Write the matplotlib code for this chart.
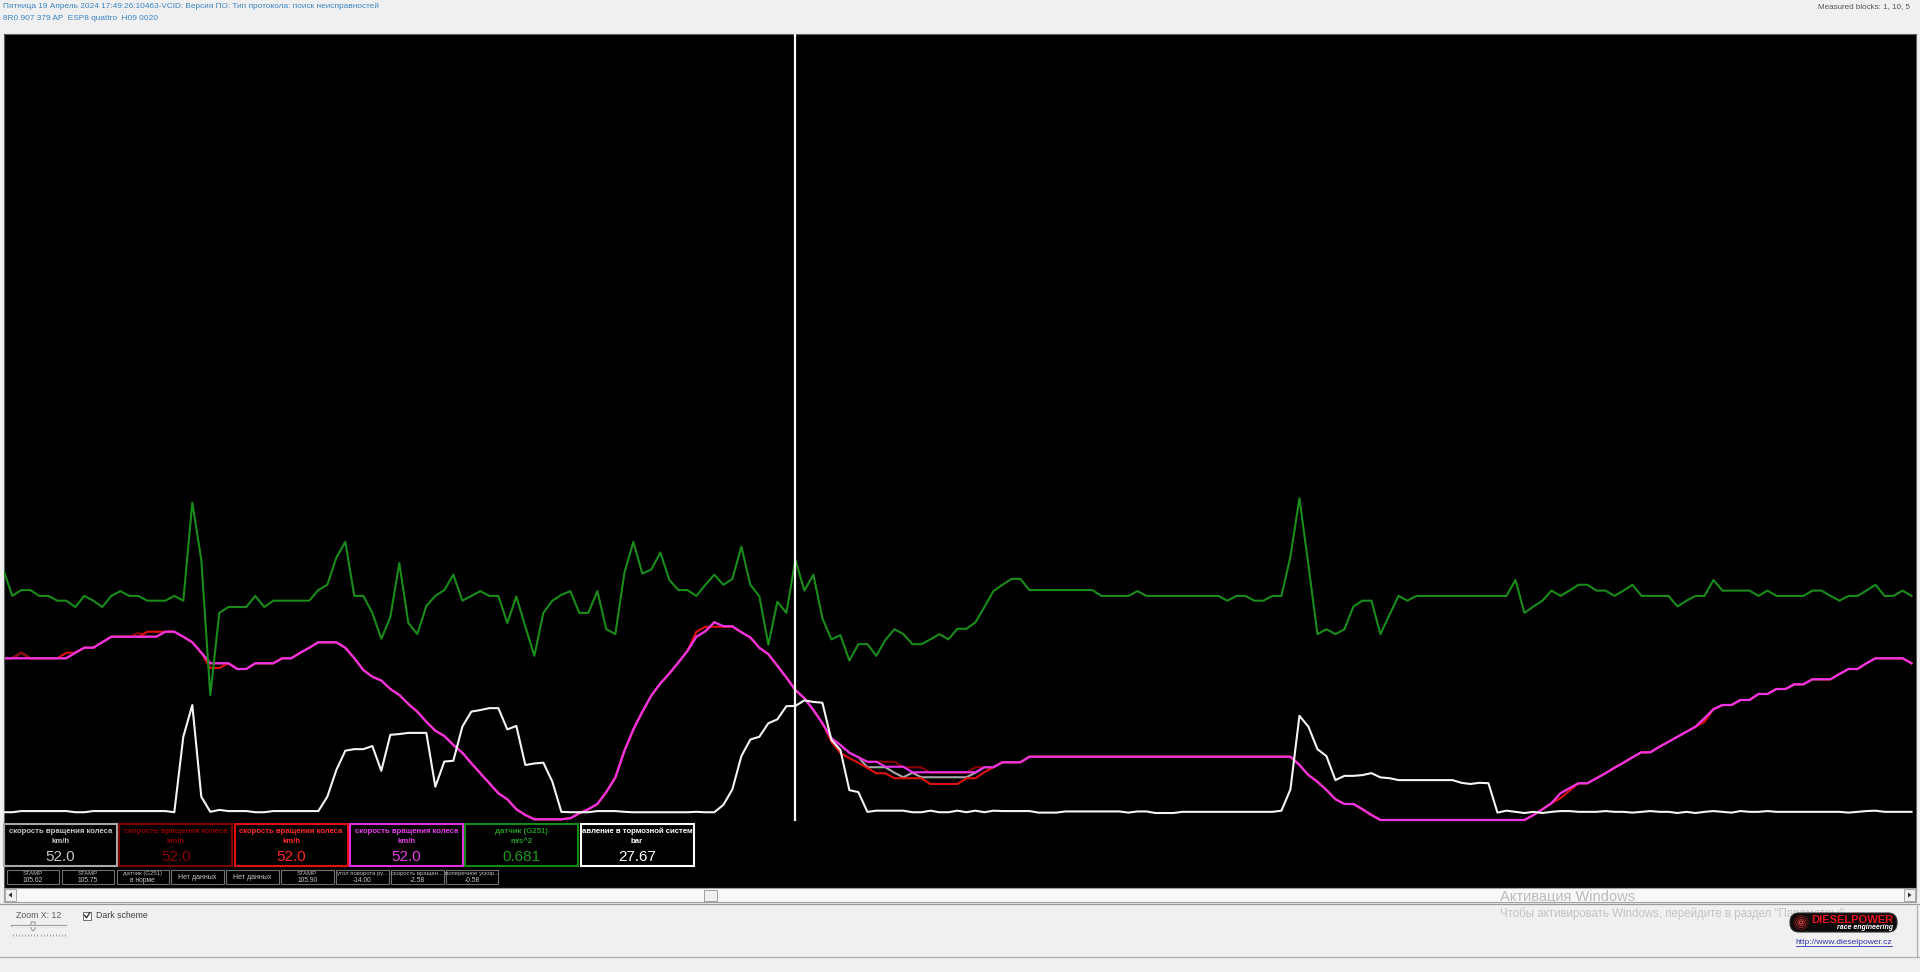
import matplotlib
matplotlib.use('Agg')
import matplotlib.pyplot as plt
import numpy as np
from matplotlib.patches import Rectangle, FancyBboxPatch, Circle, Polygon

plt.rcParams['font.family'] = ['Liberation Sans', 'DejaVu Sans']

# wheel speed, km/h (magenta channel), one value per logged sample
speed = [
    64.7, 64.7, 64.7, 64.7, 64.7, 64.7, 64.7, 64.7, 66.9, 68.9,
    68.9, 71.1, 73.3, 73.3, 73.3, 73.3, 73.3, 73.3, 75.3, 75.3,
    73.3, 71.1, 66.9, 62.7, 62.7, 62.7, 60.4, 60.4, 62.7, 62.7,
    62.7, 64.7, 64.7, 66.9, 68.9, 71.1, 71.1, 71.1, 68.9, 64.7,
    60.0, 57.3, 55.8, 52.4, 50.0, 46.4, 43.3, 39.3, 35.7, 33.6,
    30.0, 26.9, 22.7, 18.7, 14.7, 10.7, 8.3, 4.3, 2.0, 0.3,
    0.3, 0.3, 0.3, 0.7, 2.7, 4.3, 6.4, 11.2, 17.0, 27.6,
    36.2, 43.3, 49.8, 54.6, 58.6, 63.0, 67.6, 73.3, 75.5, 79.1,
    77.5, 77.5, 75.1, 73.0, 68.9, 66.3, 61.7, 57.0, 52.0, 48.7,
    44.0, 38.7, 32.7, 30.0, 26.9, 25.1, 23.3, 23.3, 21.3, 21.3,
    21.3, 19.1, 19.1, 19.1, 19.1, 19.1, 19.1, 19.1, 19.1, 21.1,
    21.1, 23.1, 23.1, 23.1, 25.3, 25.3, 25.3, 25.3, 25.3, 25.3,
    25.3, 25.3, 25.3, 25.3, 25.3, 25.3, 25.3, 25.3, 25.3, 25.3,
    25.3, 25.3, 25.3, 25.3, 25.3, 25.3, 25.3, 25.3, 25.3, 25.3,
    25.3, 25.3, 25.3, 25.3, 22.0, 18.0, 15.3, 12.0, 8.3, 6.4,
    6.4, 4.3, 2.0, 0.0, 0.0, 0.0, 0.0, 0.0, 0.0, 0.0,
    0.0, 0.0, 0.0, 0.0, 0.0, 0.0, 0.0, 0.0, 0.0, 0.0,
    2.0, 4.3, 6.7, 10.7, 12.7, 14.7, 14.7, 16.7, 18.7, 20.9,
    22.9, 25.1, 27.1, 27.1, 29.3, 31.3, 33.3, 35.3, 37.3, 40.7,
    44.3, 46.0, 46.0, 48.0, 48.0, 50.4, 50.4, 52.4, 52.4, 54.3,
    54.3, 56.3, 56.3, 56.3, 58.4, 60.4, 60.4, 62.7, 64.7, 64.7,
    64.7, 64.7, 62.7,
]

# the other three wheel speeds follow the magenta one except where they split
speed_red = list(speed)
speed_red[7:10] = [66.9, 66.9, 68.9]
speed_red[16:18] = [75.3, 75.3]
speed_red[23:25] = [60.8, 60.8]
speed_red[76:82] = [67.6, 75.3, 77.3, 77.3, 77.3, 77.3]
speed_red[91:111] = [38.7, 31.3, 26.8, 24.7, 22.9, 20.8, 18.7, 18.7, 16.7, 16.7,
                     16.7, 16.7, 14.4, 14.4, 14.4, 14.4, 16.7, 16.7, 19.1, 21.1]
speed_red[173:175] = [8.7, 11.7]
speed_red[189] = 39.3

speed_dark = list(speed)
speed_dark[2] = 66.9
speed_dark[15] = 74.9
speed_dark[96:111] = [23.3, 23.3, 23.3, 23.3, 21.1, 21.1, 21.1, 18.9, 18.9, 18.9,
                      18.9, 18.9, 21.1, 21.1, 21.1]

speed_gray = list(speed)
speed_gray[2] = 66.9
speed_gray[94:111] = [26.9, 25.1, 21.1, 21.1, 21.1, 18.9, 17.1, 18.9, 17.1, 17.1,
                      17.1, 17.1, 17.1, 17.1, 18.9, 21.1, 21.1]

# brake system pressure, bar (white channel)
pressure = [
    0.2, 0.2, 0.5, 0.5, 0.5, 0.5, 0.5, 0.5, 0.2, 0.2,
    0.5, 0.5, 0.5, 0.5, 0.5, 0.5, 0.5, 0.5, 0.5, 0.2,
    19.7, 27.9, 4.2, 0.3, 0.8, 0.5, 0.5, 0.5, 0.2, 0.2,
    0.5, 0.5, 0.5, 0.5, 0.5, 0.5, 4.2, 11.1, 16.1, 16.5,
    16.5, 17.3, 10.9, 20.2, 20.4, 20.7, 20.7, 20.7, 6.8, 13.3,
    13.5, 22.3, 26.2, 26.6, 27.1, 27.1, 21.6, 22.5, 12.4, 12.8,
    13.0, 8.1, 0.3, 0.2, 0.2, 0.2, 0.5, 0.5, 0.5, 0.3,
    0.2, 0.2, 0.2, 0.2, 0.2, 0.2, 0.2, 0.3, 0.2, 0.2,
    2.1, 6.1, 14.7, 19.0, 19.7, 23.2, 24.2, 27.6, 27.67, 29.1,
    28.7, 28.5, 18.9, 16.3, 5.9, 5.4, 0.3, 0.6, 0.6, 0.6,
    0.6, 0.2, 0.2, 0.6, 0.2, 0.2, 0.6, 0.2, 0.6, 0.2,
    0.6, 0.5, 0.5, 0.5, 0.5, 0.1, 0.1, 0.1, 0.4, 0.4,
    0.4, 0.4, 0.4, 0.4, 0.4, 0.1, 0.4, 0.4, 0.0, 0.0,
    0.0, 0.3, 0.3, 0.3, 0.3, 0.3, 0.3, 0.3, 0.3, 0.3,
    0.3, 0.3, 0.6, 6.1, 25.1, 22.3, 16.5, 14.7, 8.5, 9.6,
    9.6, 9.8, 10.3, 9.2, 9.0, 8.5, 8.5, 8.5, 8.5, 8.5,
    8.5, 8.5, 7.8, 7.5, 7.8, 7.7, 0.1, 0.6, 0.3, 0.0,
    0.3, 0.0, 0.3, 0.5, 0.5, 0.3, 0.3, 0.3, 0.5, 0.3,
    0.3, 0.1, 0.3, 0.5, 0.3, 0.3, 0.0, 0.3, 0.0, 0.3,
    0.5, 0.3, 0.1, 0.5, 0.3, 0.3, 0.5, 0.3, 0.3, 0.3,
    0.3, 0.3, 0.3, 0.3, 0.3, 0.1, 0.3, 0.5, 0.6, 0.3,
    0.3, 0.3, 0.3,
]

# G251 acceleration sensor, m/s^2 (green channel)
accel = [
    0.50, 0.00, 0.11, 0.11, 0.00, 0.00, -0.09, -0.09, -0.21, 0.00,
    -0.09, -0.21, 0.00, 0.09, 0.00, 0.00, -0.09, -0.09, -0.09, 0.00,
    -0.09, 1.76, 0.68, -1.87, -0.32, -0.21, -0.21, -0.21, 0.00, -0.21,
    -0.09, -0.09, -0.09, -0.09, -0.09, 0.11, 0.21, 0.72, 1.02, 0.00,
    0.00, -0.32, -0.81, -0.40, 0.62, -0.51, -0.72, -0.19, 0.00, 0.11,
    0.40, -0.09, 0.00, 0.09, 0.00, 0.00, -0.51, -0.01, -0.58, -1.13,
    -0.32, -0.09, 0.02, 0.09, -0.32, -0.32, 0.09, -0.63, -0.72, 0.43,
    1.02, 0.42, 0.50, 0.82, 0.30, 0.11, 0.11, 0.00, 0.21, 0.40,
    0.21, 0.32, 0.93, 0.21, -0.01, -0.92, -0.11, -0.32, 0.681, 0.10,
    0.40, -0.42, -0.82, -0.74, -1.22, -0.91, -0.91, -1.13, -0.83, -0.63,
    -0.72, -0.91, -0.91, -0.82, -0.72, -0.82, -0.62, -0.62, -0.50, -0.21,
    0.09, 0.21, 0.32, 0.32, 0.11, 0.11, 0.11, 0.11, 0.11, 0.11,
    0.11, 0.11, 0.00, 0.00, 0.00, 0.00, 0.09, 0.00, 0.00, 0.00,
    0.00, 0.00, 0.00, 0.00, 0.00, 0.00, -0.09, 0.00, 0.00, -0.09,
    -0.09, 0.00, 0.00, 0.74, 1.84, 0.58, -0.72, -0.63, -0.72, -0.63,
    -0.20, -0.09, -0.09, -0.72, -0.36, 0.00, -0.09, 0.00, 0.00, 0.00,
    0.00, 0.00, 0.00, 0.00, 0.00, 0.00, 0.00, 0.00, 0.30, -0.32,
    -0.20, -0.09, 0.10, 0.00, 0.10, 0.21, 0.21, 0.10, 0.10, 0.00,
    0.10, 0.21, 0.00, 0.00, 0.00, 0.00, -0.20, -0.09, 0.00, 0.00,
    0.30, 0.10, 0.10, 0.10, 0.10, 0.00, 0.10, 0.00, 0.00, 0.00,
    0.00, 0.10, 0.10, 0.00, -0.09, 0.00, 0.00, 0.10, 0.21, 0.00,
    0.00, 0.10, 0.00,
]

cursor_idx = 88

box_titles = ['скорость вращения колеса', 'скорость вращения колеса', 'скорость вращения колеса',
              'скорость вращения колеса', 'датчик (G251)', 'авление в тормозной систем']
box_units = ['km/h', 'km/h', 'km/h', 'km/h', 'm/s^2', 'bar']
box_values = ['52.0', '52.0', '52.0', '52.0', '0.681', '27.67']
box_colors = ['#a8a8a8', '#7c0000', '#e01010', '#e030e0', '#138a13', '#ffffff']
box_text_colors = ['#c8c8c8', '#8a0000', '#ff2828', '#e840e8', '#1f9a1f', '#ffffff']

small_top = ['STAMP', 'STAMP', 'датчик (G251)', '', '', 'STAMP',
             'угол поворота ру...', 'скорость вращен...', 'поперечное ускор...']
small_bottom = ['105.62', '105.75', 'в норме', 'Нет данных', 'Нет данных', '105.90',
                '-14.00', '-2.58', '-0.58']

W, H = 1920, 972


def rect(x0, y0, x1, y1):
    return [x0 / W, 1 - y1 / H, (x1 - x0) / W, (y1 - y0) / H]


fig = plt.figure(figsize=(19.2, 9.72), dpi=100, facecolor='#f0f0f0')

# black trace area, each channel on its own vertical scale
ax = fig.add_axes(rect(4, 34, 1916, 888))
ax.set_facecolor('black')
ax.set_xticks([])
ax.set_yticks([])
for s in ax.spines.values():
    s.set_color('#606060')
ax.set_xlim(0.08, 212.5)
ax.set_ylim(-27.2, 314.4)

ax_p = ax.twinx()
ax_p.set_ylim(-19.38, 201.3)
ax_p.set_axis_off()
ax_a = ax.twinx()
ax_a.set_ylim(-5.51, 10.6)
ax_a.set_axis_off()

x = np.arange(len(speed))
ax.plot(x, speed_gray, color='#a8a8a8', lw=1.5)
ax.plot(x, speed_dark, color='#8a0000', lw=1.5)
ax.plot(x, speed_red, color='#e01010', lw=1.5)
ax.plot(x, speed, color='#ee33ee', lw=1.5)
ax_p.plot(np.arange(len(pressure)), pressure, color='#f4f4f4', lw=1.5)
ax_a.plot(np.arange(len(accel)), accel, color='#1a8c1a', lw=1.5)
ax_a.axvline(cursor_idx, ymin=(888 - 820) / 854, ymax=1, color='white', lw=1.6)

# window chrome drawn in pixel coordinates
ui = fig.add_axes([0, 0, 1, 1])
ui.set_xlim(0, W)
ui.set_ylim(H, 0)
ui.set_axis_off()
ui.set_zorder(5)

ui.text(3, 6.5, 'Пятница 19 Апрель 2024 17:49:26:10463-VCID: Версия ПО: Тип протокола: поиск неисправностей',
        fontsize=5.95, color='#3a86c6', va='center')
ui.text(3, 19, '8R0 907 379 AP  ESP8 quattro  H09 0020', fontsize=5.95, color='#3a86c6', va='center')
ui.text(1910, 6.5, 'Measured blocks: 1, 10, 5', fontsize=5.8, color='#555555', va='center', ha='right')

for k in range(len(box_titles)):
    bx = 4 + 115.3 * k
    ui.add_patch(Rectangle((bx, 824), 113, 42, fill=False, ec=box_colors[k], lw=1.5))
    ui.text(bx + 56.5, 831.5, box_titles[k], fontsize=5.6, fontweight='bold',
            color=box_text_colors[k], ha='center', va='center')
    ui.text(bx + 56.5, 841.5, box_units[k], fontsize=5.6, fontweight='bold',
            color=box_text_colors[k], ha='center', va='center')
    ui.text(bx + 56.5, 856.5, box_values[k], fontsize=11, color=box_text_colors[k],
            ha='center', va='center')

for k in range(len(small_top)):
    bx = 6.7 + 54.9 * k
    ui.add_patch(Rectangle((bx, 869.5), 52.5, 14.5, fill=False, ec='#707070', lw=0.8))
    if small_top[k]:
        ui.text(bx + 26, 873.5, small_top[k], fontsize=4.3, color='#bdbdbd', ha='center', va='center')
        ui.text(bx + 26, 880, small_bottom[k], fontsize=4.8, color='#c8c8c8', ha='center', va='center')
    else:
        ui.text(bx + 26, 877, small_bottom[k], fontsize=5, color='#c8c8c8', ha='center', va='center')

# horizontal scrollbar
ui.add_patch(Rectangle((4, 888), 1912, 14, fc='#f8f8f8', ec='#a0a0a0', lw=0.8))
ui.add_patch(Rectangle((5, 889), 11, 12, fc='#f0f0f0', ec='#a8a8a8', lw=0.7))
ui.add_patch(Polygon([[8.5, 895], [12, 892.5], [12, 897.5]], closed=True, fc='#303030'))
ui.add_patch(Rectangle((1904, 889), 11, 12, fc='#f0f0f0', ec='#a8a8a8', lw=0.7))
ui.add_patch(Polygon([[1911.5, 895], [1908, 892.5], [1908, 897.5]], closed=True, fc='#303030'))
ui.add_patch(Rectangle((704, 890), 13, 11, fc='#f0f0f0', ec='#a0a0a0', lw=0.7))

ui.plot([0, W], [903.5, 903.5], color='#9a9a9a', lw=0.9)
ui.plot([0, W], [956.5, 956.5], color='#b0b0b0', lw=0.9)
ui.plot([1916.5, 1916.5], [903.5, 956.5], color='#b0b0b0', lw=0.9)

ui.text(16, 915, 'Zoom X: 12', fontsize=6.3, color='#5a5a5a', va='center')
ui.plot([12, 66], [925.5, 925.5], color='#a0a0a0', lw=1.6)
ui.plot([12, 66], [925.5, 925.5], color='white', lw=0.6)
ui.add_patch(Polygon([[31, 922], [35, 922], [35, 929], [33, 931], [31, 929]], closed=True,
                     fc='#f4f4f4', ec='#808080', lw=0.6))
ui.plot(np.linspace(13, 65, 18), [934.5] * 18, ls='none', marker='|', ms=1.5, mew=0.5, color='#808080')

ui.add_patch(Rectangle((83, 911.5), 8, 8, fc='white', ec='#707070', lw=0.7))
ui.plot([84.5, 86.5, 89.8], [915.2, 917.8, 912.6], color='#202020', lw=0.9)
ui.text(96, 915.5, 'Dark scheme', fontsize=6.3, color='#404040', va='center')

# windows activation watermark, its second line runs under the logo
ui.text(1500, 897, 'Активация Windows', fontsize=10.5, color='#bcbcbc', va='center')
hint = ui.text(1500, 913.5, 'Чтобы активировать Windows, перейдите в раздел "Параметры".',
               fontsize=8.3, color='#c4c4c4', va='center')
clip = Rectangle((1490, 905), 298, 20, transform=ui.transData, visible=False)
ui.add_patch(clip)
hint.set_clip_path(clip)

# DIESELPOWER logo and link
ui.add_patch(FancyBboxPatch((1790, 913), 107, 19, boxstyle='round,pad=0,rounding_size=9',
                            fc='#0a0a0a', ec='#303030', lw=0.8, zorder=6))
for r, c in [(7, '#5a1010'), (5, '#8a2020'), (3, '#b03030'), (1.5, '#d04040')]:
    ui.add_patch(Circle((1801, 922.5), r, fc='none', ec=c, lw=0.8, zorder=7))
ui.text(1893, 919.5, 'DIESELPOWER', fontsize=8, fontweight='bold', color='#e8141c',
        ha='right', va='center', zorder=8)
ui.text(1893, 927.5, 'race engineering', fontsize=5, fontweight='bold', style='italic',
        color='white', ha='right', va='center', zorder=8)
ui.text(1844, 942.5, 'http://www.dieselpower.cz', fontsize=6, color='#3434b4',
        ha='center', va='center')
ui.plot([1796, 1892], [946, 946], color='#3434b4', lw=0.6)

fig.savefig('out.png', dpi=100, facecolor=fig.get_facecolor())
